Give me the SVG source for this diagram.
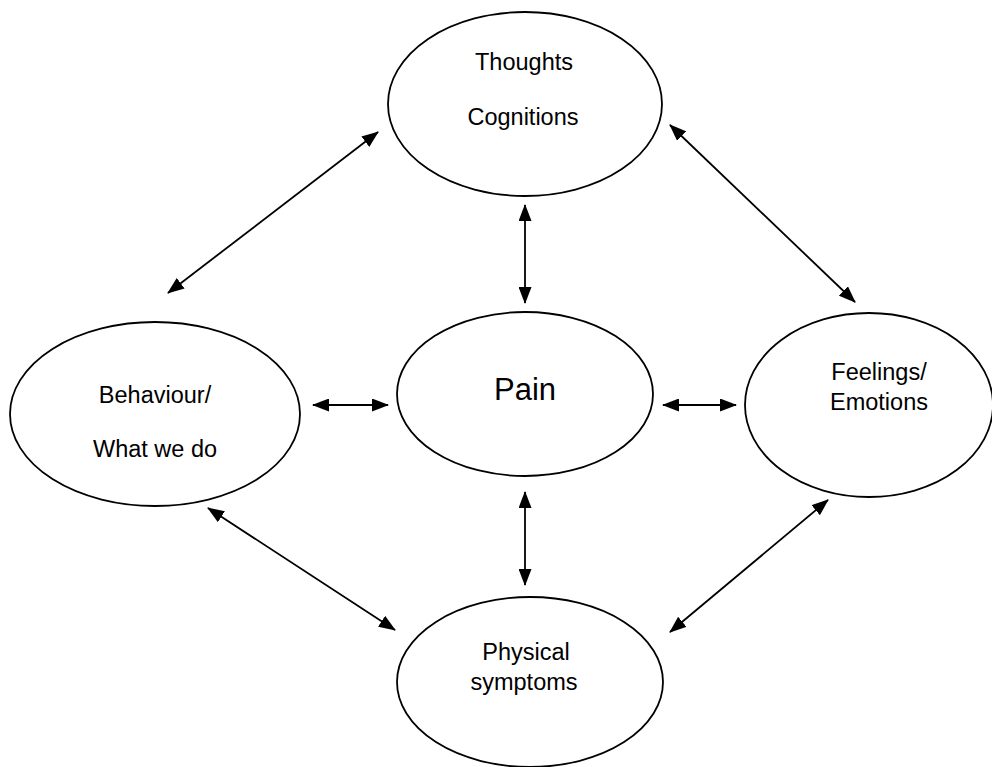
<svg xmlns="http://www.w3.org/2000/svg" width="992" height="767" viewBox="0 0 992 767">
<style>
.n{fill:#fff;stroke:#000;stroke-width:1.8}
.t{font-family:"Liberation Sans",Arial,sans-serif;font-size:23.5px;fill:#000;text-anchor:middle}
.c line{stroke:#000;stroke-width:1.8;marker-start:url(#a);marker-end:url(#a)}
</style>
<defs>
<marker id="a" viewBox="0 0 17 13" refX="16" refY="6.5" markerWidth="17" markerHeight="13" orient="auto-start-reverse" markerUnits="userSpaceOnUse">
<path d="M0,0L17,6.5L0,13z" fill="#000"/>
</marker>
</defs>
<rect width="992" height="767" fill="#fff"/>
<g id="thoughts"><ellipse class="n" cx="525" cy="104" rx="137" ry="92"/><text class="t" x="524" y="70">Thoughts</text><text class="t" x="523" y="125">Cognitions</text></g>
<g id="pain"><ellipse class="n" cx="525" cy="394" rx="128" ry="82"/><text class="t" x="525" y="400" style="font-size:31px">Pain</text></g>
<g id="behaviour"><ellipse class="n" cx="155" cy="414" rx="145" ry="92"/><text class="t" x="155" y="403">Behaviour/</text><text class="t" x="155" y="457">What we do</text></g>
<g id="feelings"><ellipse class="n" cx="869" cy="405" rx="124" ry="92"/><text class="t" x="879" y="380">Feelings/</text><text class="t" x="879" y="410">Emotions</text></g>
<g id="physical"><ellipse class="n" cx="530" cy="682" rx="133" ry="85"/><text class="t" x="526" y="660">Physical</text><text class="t" x="524" y="690">symptoms</text></g>
<g class="c" id="connectors">
<line x1="378" y1="132" x2="168" y2="293"/>
<line x1="670" y1="125" x2="855" y2="302"/>
<line x1="525" y1="205" x2="525" y2="303"/>
<line x1="313" y1="405" x2="388" y2="405"/>
<line x1="663" y1="405" x2="736" y2="405"/>
<line x1="525" y1="492" x2="525" y2="585"/>
<line x1="208" y1="508" x2="395" y2="630"/>
<line x1="828" y1="500" x2="670" y2="632"/>
</g>
</svg>
